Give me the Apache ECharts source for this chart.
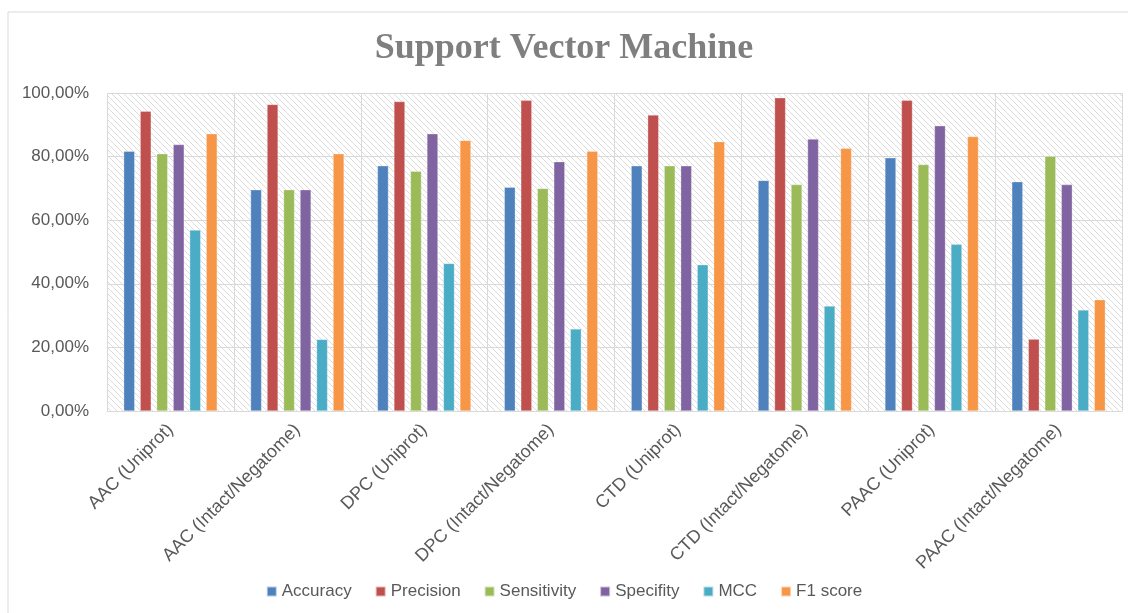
<!DOCTYPE html>
<html><head><meta charset="utf-8">
<script src="https://cdn.jsdelivr.net/npm/echarts@6/dist/echarts.min.js"></script>
<style>html,body{margin:0;padding:0;background:#fff}#c{width:1128px;height:613px}</style>
</head><body><div id="c"></div>
<script>
const categories = ["AAC (Uniprot)","AAC (Intact/Negatome)","DPC (Uniprot)","DPC (Intact/Negatome)","CTD (Uniprot)","CTD (Intact/Negatome)","PAAC (Uniprot)","PAAC (Intact/Negatome)"];
const accuracy    = [81.7, 69.6, 77.1, 70.4, 77.1, 72.5, 79.6, 72.1];
const precision   = [94.3, 96.4, 97.3, 97.7, 93.1, 98.5, 97.7, 22.6];
const sensitivity = [80.9, 69.6, 75.4, 70.0, 77.1, 71.2, 77.5, 80.1];
const specifity   = [83.8, 69.6, 87.2, 78.4, 77.1, 85.5, 89.7, 71.2];
const mcc         = [56.9, 22.5, 46.4, 25.8, 46.0, 33.0, 52.4, 31.8];
const f1score     = [87.2, 80.9, 85.1, 81.7, 84.7, 82.6, 86.3, 35.0];
const seriesNames = ["Accuracy","Precision","Sensitivity","Specifity","MCC","F1 score"];
const seriesData = [accuracy, precision, sensitivity, specifity, mcc, f1score];
const colors = ["#4F81BD","#C0504D","#9BBB59","#8064A2","#4BACC6","#F79646"];

// hatch pattern
const pc = document.createElement('canvas');
pc.width = 6; pc.height = 6;
const px = pc.getContext('2d');
px.fillStyle = '#ffffff'; px.fillRect(0,0,6,6);
px.strokeStyle = '#dcdcdc'; px.lineWidth = 1;
px.beginPath();
px.moveTo(-1,-1); px.lineTo(7,7);
px.moveTo(-4,2); px.lineTo(4,10);
px.moveTo(2,-4); px.lineTo(10,4);
px.stroke();

const chart = echarts.init(document.getElementById('c'));
chart.setOption({
  animation: false,
  color: colors,
  title: {
    text: 'Support Vector Machine', left: 'center', top: 26,
    textStyle: {fontFamily: 'Liberation Serif', fontWeight: 'bold', fontSize: 36, color: '#7f7f7f'}
  },
  graphic: [
    {type: 'line', shape: {x1: 8, y1: 12, x2: 1128, y2: 12}, style: {stroke: '#d9d9d9', lineWidth: 1}},
    {type: 'line', shape: {x1: 8, y1: 12, x2: 8, y2: 613}, style: {stroke: '#d9d9d9', lineWidth: 1}}
  ],
  legend: {
    data: seriesNames, left: 'center', top: 578,
    itemWidth: 10, itemHeight: 10, itemGap: 23,
    icon: 'rect',
    textStyle: {fontFamily: 'Liberation Sans', fontSize: 17, color: '#595959'}
  },
  grid: {
    left: 107, right: 6, top: 93, bottom: 202,
    show: true, backgroundColor: {image: pc, repeat: 'repeat'}, borderWidth: 0
  },
  xAxis: {
    type: 'category', data: categories,
    axisLine: {lineStyle: {color: '#d9d9d9'}},
    axisTick: {show: false},
    splitLine: {show: true, lineStyle: {color: '#d9d9d9', width: 1}},
    axisLabel: {rotate: 45, interval: 0, margin: 16, fontFamily: 'Liberation Sans', fontSize: 18, color: '#595959'}
  },
  yAxis: {
    type: 'value', min: 0, max: 100, interval: 20,
    axisLine: {show: false}, axisTick: {show: false},
    splitLine: {lineStyle: {color: '#d9d9d9', width: 1}},
    axisLabel: {margin: 18, fontFamily: 'Liberation Sans', fontSize: 17, color: '#595959',
      formatter: v => v.toFixed(2).replace('.', ',') + '%'}
  },
  series: seriesNames.map((n, i) => ({
    name: n, type: 'bar', data: seriesData[i],
    barWidth: 11, barGap: '50%',
    itemStyle: {color: colors[i], borderColor: 'rgba(255,255,255,0.6)', borderWidth: 0.5}
  }))
});
</script></body></html>
